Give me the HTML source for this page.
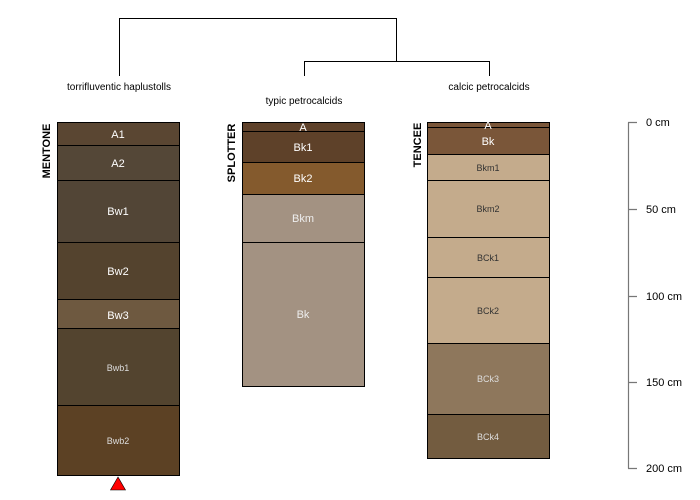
<!DOCTYPE html>
<html><head><meta charset="utf-8"><style>
html,body{margin:0;padding:0;background:#fff;}
svg{display:block;font-family:"Liberation Sans",sans-serif;}
</style></head><body>
<svg width="700" height="500" viewBox="0 0 700 500" xmlns="http://www.w3.org/2000/svg">
<!-- dendrogram -->
<g stroke="#000" stroke-width="1" fill="none">
<path d="M119.5 76V18.5H396.5V46.5"/>
<path d="M304.5 76V61.5H489.5V76"/>
<path d="M396.5 46.5V61.5"/>
</g>
<g font-size="10" fill="#000" text-anchor="middle">
<text x="119" y="90">torrifluventic haplustolls</text>
<text x="304" y="104">typic petrocalcids</text>
<text x="489" y="90">calcic petrocalcids</text>
</g>
<!-- profile names -->
<g font-size="11" font-weight="bold" fill="#000" text-anchor="middle">
<text transform="translate(50,151) rotate(-90)">MENTONE</text>
<text transform="translate(235,153) rotate(-90)">SPLOTTER</text>
<text transform="translate(421,145) rotate(-90)">TENCEE</text>
</g>
<!-- MENTONE -->
<g stroke="#000" stroke-width="1">
<rect x="57.5" y="122.5" width="122" height="23" fill="#5a4632"/>
<rect x="57.5" y="145.5" width="122" height="35" fill="#544737"/>
<rect x="57.5" y="180.5" width="122" height="62" fill="#524536"/>
<rect x="57.5" y="242.5" width="122" height="57" fill="#54432e"/>
<rect x="57.5" y="299.5" width="122" height="29" fill="#6e5940"/>
<rect x="57.5" y="328.5" width="122" height="77" fill="#53442f"/>
<rect x="57.5" y="405.5" width="122" height="70" fill="#5c4124"/>
<!-- SPLOTTER -->
<rect x="242.5" y="122.5" width="122" height="9" fill="#5e412a"/>
<rect x="242.5" y="131.5" width="122" height="31" fill="#5e4129"/>
<rect x="242.5" y="162.5" width="122" height="32" fill="#845a2d"/>
<rect x="242.5" y="194.5" width="122" height="48" fill="#a39282"/>
<rect x="242.5" y="242.5" width="122" height="144" fill="#a39282"/>
<!-- TENCEE -->
<rect x="427.5" y="122.5" width="122" height="5" fill="#7a5639"/>
<rect x="427.5" y="127.5" width="122" height="27" fill="#7a5639"/>
<rect x="427.5" y="154.5" width="122" height="26" fill="#c4ab8c"/>
<rect x="427.5" y="180.5" width="122" height="57" fill="#c4ab8c"/>
<rect x="427.5" y="237.5" width="122" height="40" fill="#c4ab8c"/>
<rect x="427.5" y="277.5" width="122" height="66" fill="#c4ab8c"/>
<rect x="427.5" y="343.5" width="122" height="71" fill="#8e775c"/>
<rect x="427.5" y="414.5" width="122" height="44" fill="#735c40"/>
</g>
<g text-anchor="middle" font-size="11" fill="#fff">
<text x="118" y="138">A1</text>
<text x="118" y="167">A2</text>
<text x="118" y="215">Bw1</text>
<text x="118" y="275">Bw2</text>
<text x="118" y="319">Bw3</text>
<text x="118" y="371" font-size="9" fill="#ddd">Bwb1</text>
<text x="118" y="444" font-size="9" fill="#ddd">Bwb2</text>
<text x="303" y="131">A</text>
<text x="303" y="151">Bk1</text>
<text x="303" y="182">Bk2</text>
<text x="303" y="222" fill="#eee">Bkm</text>
<text x="303" y="318" fill="#eee">Bk</text>
<text x="488" y="129">A</text>
<text x="488" y="145">Bk</text>
<text x="488" y="171" font-size="9" fill="#333">Bkm1</text>
<text x="488" y="212" font-size="9" fill="#333">Bkm2</text>
<text x="488" y="261" font-size="9" fill="#333">BCk1</text>
<text x="488" y="314" font-size="9" fill="#333">BCk2</text>
<text x="488" y="382" font-size="9" fill="#ddd">BCk3</text>
<text x="488" y="440" font-size="9" fill="#ddd">BCk4</text>
</g>
<!-- triangle -->
<polygon points="118,477 110.5,490 125.5,490" fill="#f00" stroke="#000" stroke-width="0.6"/>
<!-- depth axis -->
<g stroke="#777" stroke-width="1.2" fill="none">
<path d="M628.5 122.5V468.5"/>
<path d="M628 122.5H637M628 209.5H637M628 296.5H637M628 382.5H637M628 468.5H637"/>
</g>
<g font-size="11" fill="#000">
<text x="646" y="126">0 cm</text>
<text x="646" y="213">50 cm</text>
<text x="646" y="300">100 cm</text>
<text x="646" y="386">150 cm</text>
<text x="646" y="472">200 cm</text>
</g>
</svg>
</body></html>
